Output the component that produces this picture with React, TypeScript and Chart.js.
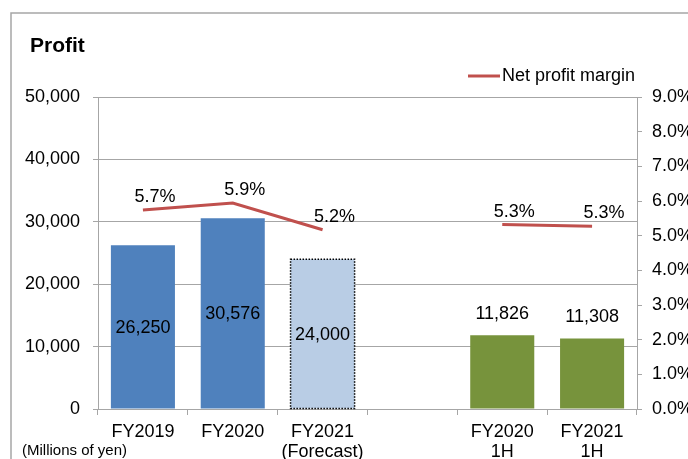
import React, { useEffect, useRef } from "react";
import { Chart, registerables } from "chart.js";

Chart.register(...registerables);

const categories: (string | string[])[] = [
  "FY2019",
  "FY2020",
  ["FY2021", "(Forecast)"],
  "",
  ["FY2020", "1H"],
  ["FY2021", "1H"],
];
const profitValues: (number | null)[] = [26250, 30576, 24000, null, 11826, 11308];
const marginValues: (number | null)[] = [5.74, 5.94, 5.17, null, 5.32, 5.27];
const leftTicks = [0, 10000, 20000, 30000, 40000, 50000];
const rightTicks = [0, 1, 2, 3, 4, 5, 6, 7, 8, 9];

const BLUE = "#4F81BD";
const LIGHT = "#B9CDE5";
const GREEN = "#77933C";
const RED = "#C0504D";
const GRID = "#A6A6A6";
const FONT = "'Liberation Sans', Arial, sans-serif";

const decorPlugin = {
  id: "decor",
  afterDatasetsDraw(chart: any) {
    const ctx = chart.ctx;
    const barMeta = chart.getDatasetMeta(0);
    const lineMeta = chart.getDatasetMeta(1);
    ctx.save();
    // dotted border for forecast bar
    const fb: any = barMeta.data[2];
    if (fb) {
      const p = fb.getProps(["x", "y", "base", "width"], true);
      ctx.strokeStyle = "#000";
      ctx.lineWidth = 1.5;
      ctx.setLineDash([1.5, 1.5]);
      ctx.strokeRect(p.x - p.width / 2, p.y, p.width, p.base - p.y);
      ctx.setLineDash([]);
    }
    ctx.fillStyle = "#000";
    ctx.font = `18px ${FONT}`;
    ctx.textAlign = "center";
    ctx.textBaseline = "middle";
    // bar labels
    barMeta.data.forEach((el: any, i: number) => {
      const v = profitValues[i];
      if (v == null) return;
      const p = el.getProps(["x", "y", "base"], true);
      const txt = v.toLocaleString("en-US");
      if (i < 3) {
        ctx.fillText(txt, p.x, (p.y + p.base) / 2 + 1);
      } else {
        ctx.fillText(txt, p.x, p.y - 21);
      }
    });
    // line labels
    lineMeta.data.forEach((el: any, i: number) => {
      const v = marginValues[i];
      if (v == null) return;
      const p = el.getProps(["x", "y"], true);
      ctx.fillText(v.toFixed(1) + "%", p.x + 12, p.y - 13);
    });
    ctx.restore();
  },
  afterDraw(chart: any) {
    const ctx = chart.ctx;
    ctx.save();
    // outer frame
    ctx.strokeStyle = GRID;
    ctx.lineWidth = 1.5;
    ctx.beginPath();
    ctx.moveTo(11, 470);
    ctx.lineTo(11, 13);
    ctx.lineTo(700, 13);
    ctx.stroke();
    // title
    ctx.fillStyle = "#000";
    ctx.textAlign = "left";
    ctx.textBaseline = "alphabetic";
    ctx.font = `bold 21px ${FONT}`;
    ctx.fillText("Profit", 30, 52);
    // unit label
    ctx.font = `15px ${FONT}`;
    ctx.textBaseline = "middle";
    ctx.fillText("(Millions of yen)", 22, 451);
    // legend
    const ds = chart.data.datasets[1];
    ctx.strokeStyle = RED;
    ctx.lineWidth = 3;
    ctx.beginPath();
    ctx.moveTo(468, 76);
    ctx.lineTo(500, 76);
    ctx.stroke();
    ctx.font = `18px ${FONT}`;
    ctx.fillText(ds.label, 502, 76);
    ctx.restore();
  },
};

export default function App() {
  const ref = useRef<HTMLCanvasElement | null>(null);
  useEffect(() => {
    if (!ref.current) return;
    const chart = new Chart(ref.current, {
      type: "bar",
      data: {
        labels: categories as any,
        datasets: [
          {
            type: "bar",
            label: "Profit",
            data: profitValues,
            backgroundColor: [BLUE, BLUE, LIGHT, BLUE, GREEN, GREEN],
            borderWidth: 0,
            barPercentage: 0.713,
            categoryPercentage: 1,
            yAxisID: "y",
            order: 2,
          },
          {
            type: "line",
            label: "Net profit margin",
            data: marginValues,
            borderColor: RED,
            backgroundColor: RED,
            borderWidth: 3,
            pointRadius: 0,
            spanGaps: false,
            tension: 0,
            yAxisID: "y1",
            order: 1,
          } as any,
        ],
      },
      options: {
        animation: false,
        responsive: false,
        devicePixelRatio: 1,
        layout: { padding: { top: 97, left: 0, right: 0, bottom: 0 } },
        plugins: {
          legend: { display: false },
          title: { display: false },
          tooltip: { enabled: false },
        },
        scales: {
          x: {
            offset: true,
            grid: {
              offset: true,
              drawOnChartArea: false,
              color: GRID,
              tickLength: 6,
            },
            border: { color: GRID },
            ticks: {
              color: "#000",
              font: { family: FONT, size: 18, lineHeight: 1.1 },
              padding: 7,
              maxRotation: 0,
              autoSkip: false,
            },
            afterFit(scale: any) {
              scale.height = 50;
            },
          },
          y: {
            position: "left",
            min: 0,
            max: 50000,
            afterBuildTicks(scale: any) {
              scale.ticks = leftTicks.map((v) => ({ value: v }));
            },
            grid: { color: GRID, tickLength: 5 },
            border: { color: GRID },
            ticks: {
              color: "#000",
              font: { family: FONT, size: 18 },
              padding: 13,
              callback: (v: any) => Number(v).toLocaleString("en-US"),
            },
            afterFit(scale: any) {
              scale.width = 98;
            },
          },
          y1: {
            position: "right",
            min: 0,
            max: 9,
            afterBuildTicks(scale: any) {
              scale.ticks = rightTicks.map((v) => ({ value: v }));
            },
            grid: { drawOnChartArea: false, color: GRID, tickLength: 5 },
            border: { color: GRID },
            ticks: {
              color: "#000",
              font: { family: FONT, size: 18 },
              padding: 10,
              callback: (v: any) => Number(v).toFixed(1) + "%",
            },
            afterFit(scale: any) {
              scale.width = 51;
            },
          },
        },
      },
      plugins: [decorPlugin],
    });
    return () => chart.destroy();
  }, []);
  return (
    <div style={{ position: "fixed", left: 0, top: 0, width: 688, height: 459, background: "#fff" }}>
      <canvas ref={ref} width={688} height={459} style={{ display: "block" }} />
    </div>
  );
}
